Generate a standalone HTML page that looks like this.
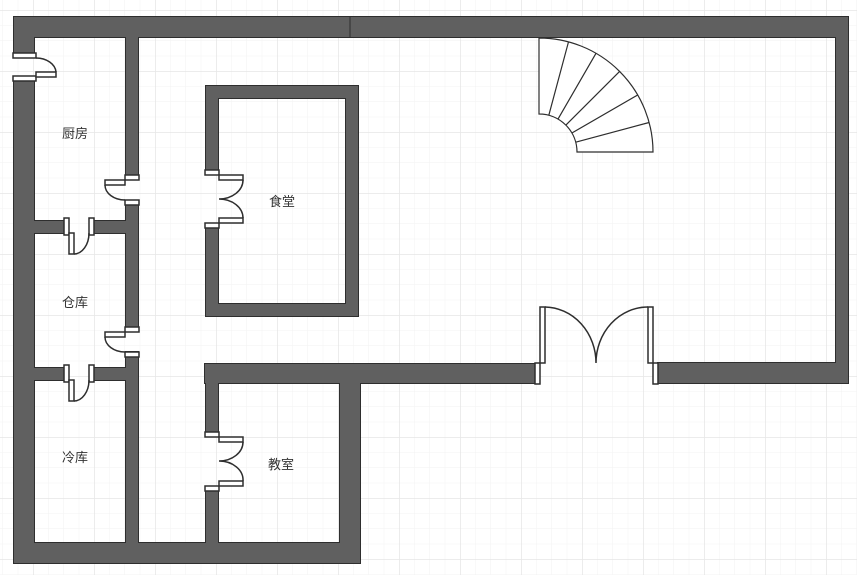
<!DOCTYPE html>
<html><head><meta charset="utf-8"><style>
html,body{margin:0;padding:0;background:#fff;}
svg{display:block}
text{font-family:"Liberation Sans","Noto Sans CJK SC",sans-serif;font-size:13px;fill:#333}
</style></head><body>
<svg width="857" height="575" viewBox="0 0 857 575" xmlns="http://www.w3.org/2000/svg">
<defs>
<pattern id="minor" x="33" y="10" width="15.25" height="15.25" patternUnits="userSpaceOnUse">
<path d="M0 0H15.25M0 0V15.25" stroke="#f2f2f2" stroke-width="1" fill="none"/>
</pattern>
<pattern id="major" x="33" y="10" width="61" height="61" patternUnits="userSpaceOnUse">
<path d="M0 0H61M0 0V61" stroke="#e6e6e6" stroke-width="1.5" fill="none"/>
</pattern>
<g id="walls">
<rect x="14" y="17" width="834" height="20"/>
<rect x="14" y="17" width="20" height="36"/>
<rect x="14" y="80" width="20" height="483"/>
<rect x="836" y="17" width="12" height="366"/>
<rect x="658" y="363" width="190" height="20"/>
<rect x="205" y="364" width="330" height="19"/>
<rect x="340" y="364" width="20" height="199"/>
<rect x="14" y="543" width="346" height="20"/>
<rect x="126" y="37" width="12" height="138"/>
<rect x="126" y="205" width="12" height="122"/>
<rect x="126" y="352" width="12" height="191"/>
<rect x="206" y="383" width="12" height="50"/>
<rect x="206" y="490" width="12" height="53"/>
<rect x="34" y="221" width="30" height="12"/>
<rect x="94" y="221" width="32" height="12"/>
<rect x="34" y="368" width="30" height="12"/>
<rect x="94" y="368" width="32" height="12"/>
<rect x="206" y="86" width="152" height="12"/>
<rect x="206" y="304" width="152" height="12"/>
<rect x="346" y="86" width="12" height="230"/>
<rect x="206" y="86" width="12" height="84"/>
<rect x="206" y="228" width="12" height="88"/>
</g>
</defs>
<rect width="857" height="575" fill="#fff"/>
<rect width="857" height="575" fill="url(#minor)"/>
<rect width="857" height="575" fill="url(#major)"/>

<use href="#walls" fill="#606060" stroke="#2e2e2e" stroke-width="2"/>
<use href="#walls" fill="#606060" stroke="none"/>
<line x1="350" y1="17" x2="350" y2="37" stroke="#2e2e2e"/>

<g fill="#fff" stroke="#2e2e2e" stroke-width="1.5">
<rect x="13" y="53" width="23" height="5"/>
<rect x="13" y="76" width="23" height="5"/>
<rect x="36" y="72" width="20" height="5"/>
<path d="M36 58 A20 15 0 0 1 56 72" fill="none"/>
<rect x="125" y="175" width="14" height="5"/>
<rect x="125" y="200" width="14" height="5"/>
<rect x="105" y="180" width="20" height="5"/>
<path d="M105 185 A20 15 0 0 0 125 200" fill="none"/>
<rect x="125" y="327" width="14" height="5"/>
<rect x="125" y="352" width="14" height="5"/>
<rect x="105" y="332" width="20" height="5"/>
<path d="M105 337 A20 15 0 0 0 125 352" fill="none"/>
<rect x="64" y="218" width="5" height="17"/>
<rect x="89" y="218" width="5" height="17"/>
<rect x="69" y="233" width="5" height="21"/>
<path d="M74 254 A15 21 0 0 0 89 233" fill="none"/>
<rect x="64" y="365" width="5" height="17"/>
<rect x="89" y="365" width="5" height="17"/>
<rect x="69" y="380" width="5" height="21"/>
<path d="M74 401 A15 21 0 0 0 89 380" fill="none"/>
<rect x="205" y="170" width="14" height="5"/>
<rect x="205" y="223" width="14" height="5"/>
<rect x="219" y="175" width="24" height="5"/>
<rect x="219" y="218" width="24" height="5"/>
<path d="M243 180 A24 19 0 0 1 219 199 A24 19 0 0 1 243 218" fill="none"/>
<rect x="205" y="432" width="14" height="5"/>
<rect x="205" y="486" width="14" height="5"/>
<rect x="219" y="437" width="24" height="5"/>
<rect x="219" y="481" width="24" height="5"/>
<path d="M243 442 A24 19 0 0 1 219 461 A24 19 0 0 1 243 481" fill="none"/>
<rect x="535" y="363" width="5" height="21"/>
<rect x="653" y="363" width="5" height="21"/>
<rect x="540" y="307" width="5" height="56"/>
<rect x="648" y="307" width="5" height="56"/>
<path d="M545 307 A52 56 0 0 1 596 363 A52 56 0 0 1 648 307" fill="none"/>
</g>

<g fill="#fff" stroke="#2e2e2e" stroke-width="1.2">
<path d="M539 38 A114 114 0 0 1 653 152 L577 152 A38 38 0 0 0 539 114 Z"/>
<path d="M568.5 41.9 L548.8 115.3 M596 53.3 L558 119.1 M619.6 71.4 L565.9 125.1 M637.7 95 L571.9 133 M649.1 122.5 L575.7 142.2" fill="none"/>
</g>

<text x="62" y="138">厨房</text>
<text x="62" y="307">仓库</text>
<text x="62" y="462">冷库</text>
<text x="269" y="206">食堂</text>
<text x="268" y="469">教室</text>
</svg>
</body></html>
